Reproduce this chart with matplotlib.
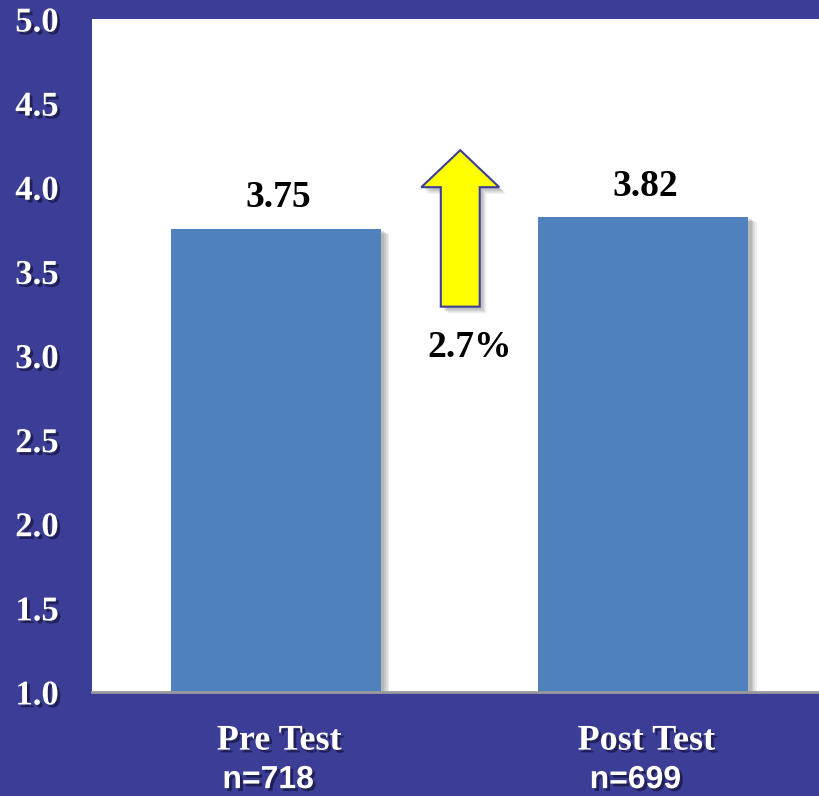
import matplotlib.pyplot as plt
import matplotlib.patheffects as pe
from matplotlib.patches import Polygon
from matplotlib.ticker import FormatStrFormatter

# scores before / after
categories = ['Pre Test', 'Post Test']
sample_sizes = ['n=718', 'n=699']
means = [3.75, 3.82]
change_label = '2.7%'
y_ticks = [1.0, 1.5, 2.0, 2.5, 3.0, 3.5, 4.0, 4.5, 5.0]

bg = '#3b3d96'
bar_color = '#4f81bd'
serif = ['Liberation Serif', 'DejaVu Serif']
sans = ['Liberation Sans', 'DejaVu Sans']


def soft_shadow(dx, dy, color='#777777'):
    # a few stacked offsets to fake a blurred drop shadow
    effects = []
    for k, a in [(1.6, 0.12), (1.3, 0.15), (1.0, 0.2), (0.7, 0.2)]:
        effects.append(pe.SimplePatchShadow(offset=(dx * k, dy * k), shadow_rgbFace=color, alpha=a))
    effects.append(pe.Normal())
    return effects


fig = plt.figure(figsize=(8.19, 7.96), dpi=100, facecolor=bg)
ax = fig.add_axes([0.1123, 0.1307, 0.8877, 0.8455])
ax.set_facecolor('white')

x = list(range(len(categories)))
bars = ax.bar(x, means, width=0.572, bottom=0, color=bar_color, zorder=2)
for b in bars:
    b.set_path_effects(soft_shadow(4, -2))

ax.set_xlim(-0.5, 1.48)
ax.set_ylim(1.0, 5.0)
ax.set_yticks(y_ticks)
ax.yaxis.set_major_formatter(FormatStrFormatter('%.1f'))
ax.set_xticks([])

for side in ['left', 'top', 'right']:
    ax.spines[side].set_visible(False)
ax.spines['bottom'].set_color('#9a9a9a')
ax.spines['bottom'].set_linewidth(2)
ax.spines['bottom'].set_zorder(3)

text_shadow = [pe.SimplePatchShadow(offset=(2, -2), shadow_rgbFace='#15153d', alpha=0.7),
               pe.Normal()]

ax.tick_params(axis='y', length=0, pad=24)
for lbl in ax.get_yticklabels():
    lbl.set_family(serif)
    lbl.set_fontweight('bold')
    lbl.set_fontsize(25)
    lbl.set_color('white')
    lbl.set_path_effects(text_shadow)

# value labels on top of the bars
for xi, v in zip(x, means):
    ax.annotate(f'{v:.2f}', (xi, v), xytext=(2, 10), textcoords='offset points',
                ha='center', va='bottom', fontsize=27, fontweight='bold',
                family=serif, color='black')

# category names and sample sizes under the axis
trans = ax.get_xaxis_transform()
for xi, name, n in zip(x, categories, sample_sizes):
    ax.text(xi + 0.01, -0.073, name, transform=trans, ha='center', va='center',
            fontsize=26, fontweight='bold', family=serif, color='white',
            path_effects=text_shadow, clip_on=False)
    ax.text(xi - 0.02, -0.131, n, transform=trans, ha='center', va='center',
            fontsize=23, fontweight='bold', family=sans, color='white',
            path_effects=text_shadow, clip_on=False)

# up arrow between the bars
ax_x = 0.503
shaft_w, head_w = 0.053, 0.106
base, neck, tip = 3.29, 4.0, 4.22
arrow = Polygon([(ax_x - shaft_w, base), (ax_x + shaft_w, base), (ax_x + shaft_w, neck),
                 (ax_x + head_w, neck), (ax_x, tip), (ax_x - head_w, neck),
                 (ax_x - shaft_w, neck)], closed=True, facecolor='#ffff00',
                edgecolor='#3b3d96', linewidth=1.5, zorder=3)
arrow.set_path_effects(soft_shadow(3, -3, '#888888'))
ax.add_patch(arrow)
ax.text(ax_x + 0.025, 3.05, change_label, ha='center', va='center', fontsize=27,
        fontweight='bold', family=serif, color='black')

fig.savefig('out.png', dpi=100, facecolor=bg)
